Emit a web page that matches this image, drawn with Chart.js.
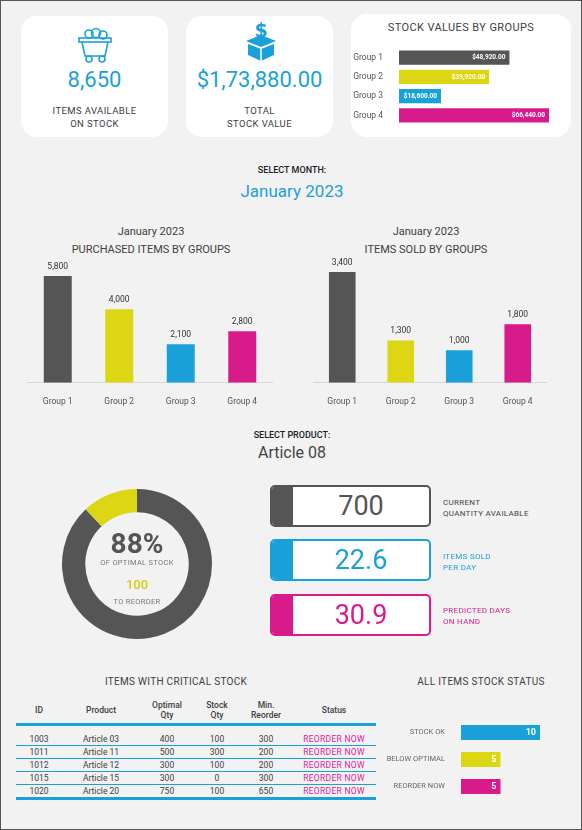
<!DOCTYPE html>
<html><head><meta charset="utf-8">
<script src="https://cdn.jsdelivr.net/npm/chart.js@4"></script>
<style>
body{margin:0;background:#fff;font-family:Roboto,"Noto Sans",sans-serif;}
#page{position:relative;width:580px;height:828px;background:#f2f2f2;border:1px solid #555;overflow:hidden;color:#404040}
.card{position:absolute;background:#fff;border-radius:16px}
.abs{position:absolute}
canvas.abs{display:block}
.c{text-align:center}
.blue{color:#1ba1d9}
.box{position:absolute;left:269px;width:157px;height:38px;background:#fff;border:2px solid;border-radius:5px;overflow:hidden}
.box .strip{position:absolute;left:0;top:0;bottom:0;width:21px}
.box .v{position:absolute;left:21px;right:0;top:0;line-height:38px;text-align:center;font-size:27px}
.lbl{position:absolute;left:442px;font-size:8px;line-height:11px;letter-spacing:.3px}
table{border-collapse:collapse;font-size:8.5px;color:#404040;table-layout:fixed}
td,th{text-align:center;padding:0;height:12px;line-height:12px}
th{font-weight:500;height:27px;line-height:10px}
</style></head><body>
<div id="page">
 <div class="card" style="left:20px;top:15px;width:147px;height:121px"></div>
 <div class="card" style="left:185px;top:15px;width:147px;height:121px"></div>
 <div class="card" style="left:350px;top:13px;width:220px;height:123px"></div>
 <svg class="abs" style="left:74px;top:24px" width="40" height="40" viewBox="0 0 40 40" fill="none" stroke="#1ba1d9" stroke-width="1.6">
  <circle cx="14" cy="9" r="4"/><circle cx="21" cy="8" r="4.5"/><circle cx="28" cy="10" r="4"/>
  <rect x="4" y="13" width="32" height="4"/><path d="M7 17 L10 31 H30 L33 17"/><circle cx="14" cy="34" r="3"/><circle cx="27" cy="34" r="3"/>
 </svg>
 <svg class="abs" style="left:240px;top:20px" width="40" height="42" viewBox="0 0 40 42">
  <text x="20" y="16" text-anchor="middle" font-size="19" font-weight="bold" fill="#1ba1d9" font-family="DejaVu Sans">$</text>
  <path d="M5 20 L20 14 L35 20 L20 26 Z" fill="#1ba1d9"/><path d="M7 23 L20 28 L33 23 V34 L20 40 L7 34 Z" fill="#1ba1d9"/>
  <path d="M20 28 V40" stroke="#fff" stroke-width="1.5"/>
 </svg>
 <div class="abs c blue" style="left:20px;width:147px;top:66px;font-size:22px">8,650</div>
 <div class="abs c" style="left:20px;width:147px;top:103px;font-size:9.5px;line-height:13px;letter-spacing:.4px">ITEMS AVAILABLE<br>ON STOCK</div>
 <div class="abs c blue" style="left:185px;width:147px;top:66px;font-size:22px">$1,73,880.00</div>
 <div class="abs c" style="left:185px;width:147px;top:103px;font-size:9.5px;line-height:13px;letter-spacing:.4px">TOTAL<br>STOCK VALUE</div>
 <div class="abs c" style="left:350px;width:220px;top:20px;font-size:11px;letter-spacing:.4px">STOCK VALUES BY GROUPS</div>
 <canvas id="cValue" class="abs" style="left:352px;top:47px" width="196" height="77"></canvas>

 <div class="abs c" style="left:0;width:582px;top:164px;font-size:9px;font-weight:500;color:#222">SELECT MONTH:</div>
 <div class="abs c blue" style="left:0;width:582px;top:180px;font-size:17px">January 2023</div>
 <div class="abs c" style="left:20px;width:260px;top:222px;font-size:11px;line-height:18px">January 2023<br>PURCHASED ITEMS BY GROUPS</div>
 <div class="abs c" style="left:295px;width:260px;top:222px;font-size:11px;line-height:18px">January 2023<br>ITEMS SOLD BY GROUPS</div>
 <canvas id="cPurch" class="abs" style="left:26px;top:257px" width="246" height="155"></canvas>
 <canvas id="cSold" class="abs" style="left:312px;top:253px" width="234" height="159"></canvas>

 <div class="abs c" style="left:0;width:582px;top:429px;font-size:9px;font-weight:500;color:#222">SELECT PRODUCT:</div>
 <div class="abs c" style="left:0;width:582px;top:442px;font-size:16px;color:#444">Article 08</div>
 <canvas id="cDonut" class="abs" style="left:59px;top:486px" width="154" height="154"></canvas>
 <div class="abs c" style="left:76px;width:120px;top:526px;font-size:28px;font-weight:bold;color:#555">88%</div>
 <div class="abs c" style="left:76px;width:120px;top:557px;font-size:7.5px;letter-spacing:.3px;color:#777">OF OPTIMAL STOCK</div>
 <div class="abs c" style="left:76px;width:120px;top:576px;font-size:13px;font-weight:500;color:#d4cc0a">100</div>
 <div class="abs c" style="left:76px;width:120px;top:596px;font-size:7.5px;letter-spacing:.3px;color:#777">TO REORDER</div>

 <div class="box" style="top:484px;border-color:#555"><div class="strip" style="background:#555"></div><div class="v" style="color:#555">700</div></div>
 <div class="lbl" style="top:496px;color:#444">CURRENT<br>QUANTITY AVAILABLE</div>
 <div class="box" style="top:538px;border-color:#1ba1d9"><div class="strip" style="background:#1ba1d9"></div><div class="v" style="color:#1ba1d9">22.6</div></div>
 <div class="lbl" style="top:550px;color:#1ba1d9">ITEMS SOLD<br>PER DAY</div>
 <div class="box" style="top:593px;border-color:#d81b8a"><div class="strip" style="background:#d81b8a"></div><div class="v" style="color:#d81b8a">30.9</div></div>
 <div class="lbl" style="top:604px;color:#d81b8a">PREDICTED DAYS<br>ON HAND</div>

 <div class="abs c" style="left:15px;width:320px;top:675px;font-size:10px;letter-spacing:.3px">ITEMS WITH CRITICAL STOCK</div>
 <div class="abs" style="left:15px;top:695px;width:360px"><table id="tbl" style="width:360px">
  <colgroup><col style="width:46px"><col style="width:78px"><col style="width:54px"><col style="width:46px"><col style="width:52px"><col style="width:84px"></colgroup>
 </table></div>
 <div class="abs c" style="left:400px;width:160px;top:675px;font-size:10px;letter-spacing:.3px">ALL ITEMS STOCK STATUS</div>
 <canvas id="cStatus" class="abs" style="left:380px;top:718px" width="180" height="81"></canvas>
</div>
<script>
const groups = ['Group 1', 'Group 2', 'Group 3', 'Group 4'];
const groupColors = ['#555555', '#ddd615', '#1ba1d9', '#d81b8a'];
const stockValues = [48920, 39920, 18600, 66440];
const purchased = [5800, 4000, 2100, 2800];
const sold = [3400, 1300, 1000, 1800];
const optimalPct = [88, 12];
const statusLabels = ['STOCK OK', 'BELOW OPTIMAL', 'REORDER NOW'];
const statusValues = [10, 5, 5];
const statusColors = ['#1ba1d9', '#ddd615', '#d81b8a'];
const tableIds = ['1003', '1011', '1012', '1015', '1020'];
const tableProducts = ['Article 03', 'Article 11', 'Article 12', 'Article 15', 'Article 20'];
const tableOptimal = [400, 500, 300, 300, 750];
const tableStock = [100, 300, 100, 0, 100];
const tableMinReorder = [300, 200, 200, 300, 650];

Chart.defaults.font.family = 'Roboto, "Noto Sans", sans-serif';
Chart.defaults.color = '#404040';
Chart.defaults.animation = false;
Chart.defaults.responsive = false;
Chart.defaults.plugins.legend.display = false;
Chart.defaults.plugins.tooltip.enabled = false;

// values written inside or above the bars
const barText = {
  id: 'barText',
  afterDatasetsDraw(chart, args, opts) {
    const ctx = chart.ctx;
    const ds = chart.data.datasets[0];
    chart.getDatasetMeta(0).data.forEach((bar, i) => {
      ctx.save();
      ctx.font = opts.font;
      ctx.fillStyle = opts.color;
      const txt = opts.format(ds.data[i]);
      if (opts.inside) {
        ctx.textAlign = 'right'; ctx.textBaseline = 'middle';
        ctx.fillText(txt, bar.x - 4, bar.y);
      } else {
        ctx.textAlign = 'center'; ctx.textBaseline = 'bottom';
        ctx.fillText(txt, bar.x, bar.y - 5);
      }
      ctx.restore();
    });
  }
};

// fixed label column width, no extra top/bottom padding
const fixWidth = w => s => { s.width = w; s.paddingTop = 0; s.paddingBottom = 0; };

new Chart(document.getElementById('cValue'), {
  type: 'bar',
  data: { labels: groups, datasets: [{ data: stockValues, backgroundColor: groupColors, barPercentage: 0.73, categoryPercentage: 1 }] },
  options: {
    indexAxis: 'y',
    layout: { autoPadding: false },
    scales: {
      x: { display: false, min: 0, max: 66440 },
      y: { grid: { display: false }, border: { display: false }, afterFit: fixWidth(46), ticks: { font: { size: 8.5 }, color: '#555', padding: 8 } }
    },
    plugins: { barText: { inside: true, color: '#fff', font: 'bold 6.5px Roboto', format: v => '$' + v.toLocaleString('en-US') + '.00' } }
  },
  plugins: [barText]
});

function groupBars(id, data) {
  new Chart(document.getElementById(id), {
    type: 'bar',
    data: { labels: groups, datasets: [{ data: data, backgroundColor: groupColors, barPercentage: 0.455, categoryPercentage: 1 }] },
    options: {
      layout: { autoPadding: false, padding: { top: 18 } },
      scales: {
        x: { grid: { display: false }, border: { color: '#d8d8d8' }, ticks: { font: { size: 8.5 }, color: '#555', padding: 6 } },
        y: { display: false, min: 0, max: Math.max(...data) }
      },
      plugins: { barText: { inside: false, color: '#333', font: '8.5px Roboto', format: v => v.toLocaleString('en-US') } }
    },
    plugins: [barText]
  });
}
groupBars('cPurch', purchased);
groupBars('cSold', sold);

new Chart(document.getElementById('cDonut'), {
  type: 'doughnut',
  data: { labels: ['Stock', 'To reorder'], datasets: [{ data: optimalPct, backgroundColor: ['#555555', '#ddd615'], borderWidth: 0 }] },
  options: { cutout: '69%', layout: { padding: 2 } }
});

new Chart(document.getElementById('cStatus'), {
  type: 'bar',
  data: { labels: statusLabels, datasets: [{ data: statusValues, backgroundColor: statusColors, barPercentage: 0.56, categoryPercentage: 1 }] },
  options: {
    indexAxis: 'y',
    layout: { autoPadding: false, padding: { right: 21 } },
    scales: {
      x: { display: false, min: 0, max: 10 },
      y: { grid: { display: false }, border: { display: false }, afterFit: fixWidth(80), ticks: { font: { size: 7.5 }, color: '#666', padding: 8 } }
    },
    plugins: { barText: { inside: true, color: '#fff', font: 'bold 9px Roboto', format: v => String(v) } }
  },
  plugins: [barText]
});

// critical stock table
const blue = '#1ba1d9';
let html = '<tr style="border-bottom:3px solid ' + blue + '"><th>ID</th><th>Product</th><th>Optimal<br>Qty</th><th>Stock<br>Qty</th><th>Min.<br>Reorder</th><th>Status</th></tr>';
html += '<tr><td colspan="6" style="height:7px"></td></tr>';
tableIds.forEach((id, i) => {
  const last = i === tableIds.length - 1;
  html += '<tr style="border-bottom:' + (last ? 3 : 1) + 'px solid ' + blue + '"><td>' + id + '</td><td>' + tableProducts[i] +
    '</td><td>' + tableOptimal[i] + '</td><td>' + tableStock[i] + '</td><td>' + tableMinReorder[i] +
    '</td><td style="color:#e0209a;letter-spacing:.3px">REORDER NOW</td></tr>';
});
document.getElementById('tbl').insertAdjacentHTML('beforeend', html);
</script>
</body></html>
